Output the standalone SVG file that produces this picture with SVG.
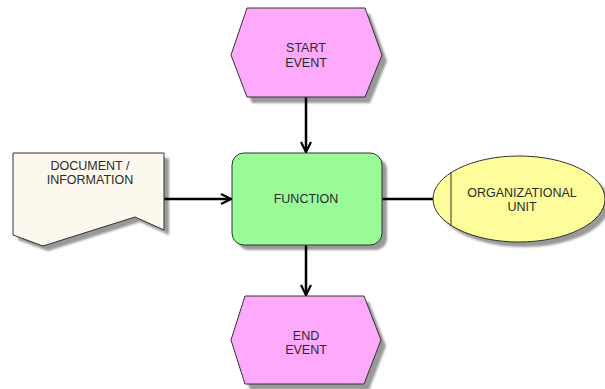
<svg xmlns="http://www.w3.org/2000/svg" width="605" height="389" viewBox="0 0 605 389">
  <defs>
    <filter id="shadow" x="-10%" y="-10%" width="130%" height="130%">
      <feGaussianBlur stdDeviation="1"/>
    </filter>
    <marker id="arrow" viewBox="0 0 12 12" refX="11" refY="6" markerWidth="12" markerHeight="12" markerUnits="userSpaceOnUse" orient="auto">
      <path d="M1,1 L11,6 L1,11" fill="none" stroke="#000" stroke-width="2.2"/>
    </marker>
  </defs>
  <style>
    .shape { stroke: #333; stroke-width: 1; }
    .shd { fill: #999; filter: url(#shadow); }
    .event { fill: #fdaafd; }
    .func { fill: #99fc99; }
    .doc { fill: #fdf8ee; }
    .org { fill: #fdfd9c; }
    .lbl { font-family: "Liberation Sans", Arial, sans-serif; font-size: 12.5px; fill: #2a2a2a; text-anchor: middle; }
    .conn { stroke: #000; stroke-width: 2.5; fill: none; }
  </style>
  <rect width="605" height="389" fill="#fff"/>

  <g id="start-event">
    <polygon class="shd" points="252,14 370,14 387,61 370,103 252,103 236,61"/>
    <polygon class="shape event" points="247,8 365,8 382,55 365,97 247,97 231,55"/>
    <text class="lbl" x="306" y="52">START</text>
    <text class="lbl" x="306" y="67">EVENT</text>
  </g>

  <g id="document">
    <polygon class="shd" points="18,158 169,158 169,235 140,222 48,251 18,240"/>
    <polygon class="shape doc" points="13,153 164,153 164,230 135,217 43,246 13,235"/>
    <text class="lbl" x="90" y="170">DOCUMENT /</text>
    <text class="lbl" x="90" y="184">INFORMATION</text>
  </g>

  <g id="function">
    <rect class="shd" x="237" y="158" width="150" height="92" rx="12"/>
    <rect class="shape func" x="232" y="153" width="150" height="92" rx="12"/>
    <text class="lbl" x="306" y="203">FUNCTION</text>
  </g>

  <g id="organizational-unit">
    <ellipse class="shd" cx="524" cy="204" rx="86" ry="43"/>
    <ellipse class="shape org" cx="519" cy="199" rx="86" ry="43"/>
    <line class="shape" x1="451" y1="172" x2="451" y2="226"/>
    <text class="lbl" x="522" y="197">ORGANIZATIONAL</text>
    <text class="lbl" x="522" y="211">UNIT</text>
  </g>

  <g id="end-event">
    <polygon class="shd" points="250,302 369,302 386,346 369,390 250,390 236,346"/>
    <polygon class="shape event" points="245,296 364,296 381,340 364,384 245,384 231,340"/>
    <text class="lbl" x="306" y="340">END</text>
    <text class="lbl" x="306" y="354">EVENT</text>
  </g>

  <g id="connectors">
    <line class="conn" x1="306" y1="97.5" x2="306" y2="152" marker-end="url(#arrow)"/>
    <line class="conn" x1="164.5" y1="199" x2="231" y2="199" marker-end="url(#arrow)"/>
    <line class="conn" x1="382.5" y1="199" x2="433" y2="199"/>
    <line class="conn" x1="306" y1="245.5" x2="306" y2="295" marker-end="url(#arrow)"/>
  </g>
</svg>
